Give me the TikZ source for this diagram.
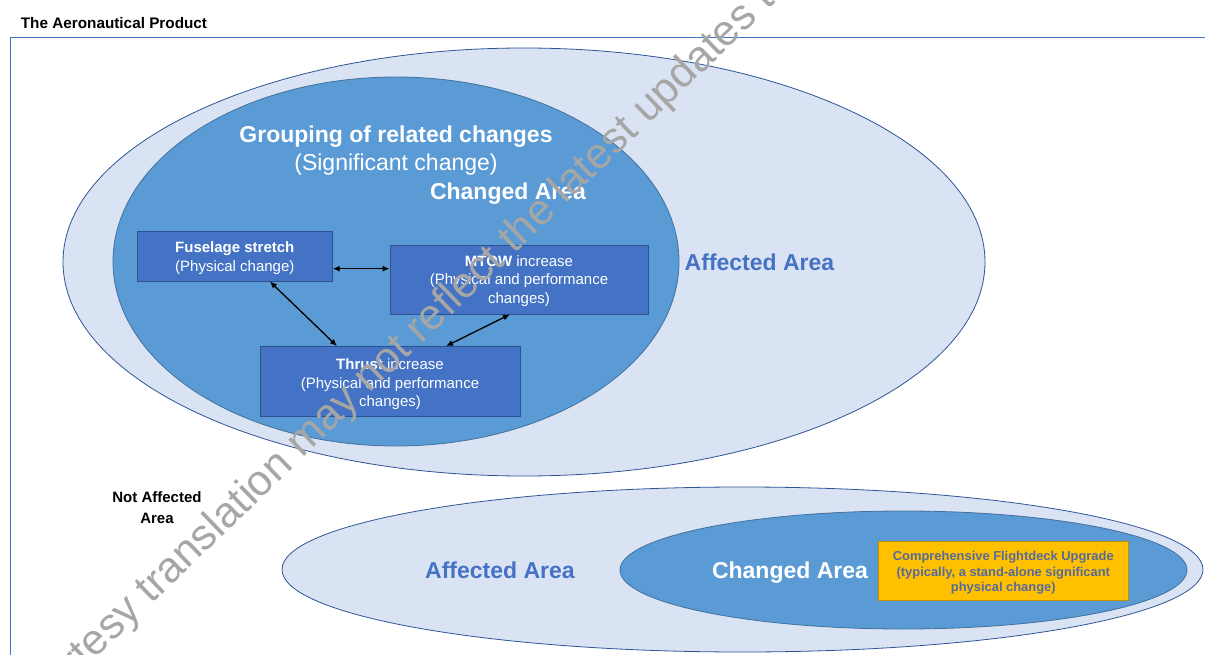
\documentclass[tikz,border=0pt]{standalone}
\usepackage{fontspec}
\setmainfont{Liberation Sans}
\usetikzlibrary{shapes.geometric,arrows.meta}
\definecolor{lightfill}{RGB}{218,227,243}
\definecolor{outerline}{RGB}{47,85,151}
\definecolor{midfill}{RGB}{91,155,213}
\definecolor{midline}{RGB}{65,113,156}
\definecolor{boxfill}{RGB}{68,114,196}
\definecolor{boxline}{RGB}{47,82,143}
\definecolor{accent}{RGB}{68,114,196}
\definecolor{gold}{RGB}{255,192,0}
\definecolor{goldline}{RGB}{191,144,0}
\definecolor{goldtext}{RGB}{86,106,158}
\definecolor{wmgray}{RGB}{166,166,166}
\definecolor{frameline}{RGB}{68,114,196}
\tikzset{
  areaouter/.style={ellipse, draw=outerline, fill=lightfill, line width=0.8pt, inner sep=0pt},
  areainner/.style={ellipse, draw=midline, fill=midfill, line width=0.8pt, inner sep=0pt},
  changebox/.style={rectangle, draw=boxline, fill=boxfill, line width=0.8pt, inner sep=0pt},
  boxtext/.style={text=white, align=center, inner sep=0pt, font=\fontsize{15}{18.5}\selectfont},
  flightbox/.style={rectangle, draw=goldline, fill=gold, line width=0.8pt, inner sep=0pt},
  flighttext/.style={text=goldtext, align=center, inner sep=0pt, font=\bfseries\fontsize{12.9}{15.5}\selectfont},
  bigwhite/.style={text=white, inner sep=0pt, font=\bfseries\fontsize{23}{27}\selectfont},
  bigblue/.style={text=accent, inner sep=0pt, font=\bfseries\fontsize{23}{27}\selectfont},
  blacklabel/.style={text=black, inner sep=0pt, align=center, font=\bfseries\fontsize{15}{21.7}\selectfont},
  link/.style={{Latex[length=7pt,width=6pt]}-{Latex[length=7pt,width=6pt]}, line width=1.3pt, black},
}
\begin{document}
\begin{tikzpicture}[x=1pt,y=-1pt]
\clip (0,0) rectangle (1205,655);
\fill[white] (0,0) rectangle (1205,655);
% title and frame
\node[anchor=base west, inner sep=0pt, font=\bfseries\fontsize{15.3}{18}\selectfont] (title) at (20.7,29) {The Aeronautical Product};
\draw[frameline, line width=0.9pt] (10.3,700) -- (10.3,37.7) -- (1260,37.7);
% top area
\node[areaouter, minimum width=922pt, minimum height=428pt] (topaff) at (524,262) {};
\node[areainner, minimum width=566pt, minimum height=369pt] (topchg) at (396,261.5) {};
\node[bigwhite] (grp) at (396,137) {Grouping of related changes};
\node[text=white, inner sep=0pt, font=\fontsize{23}{27}\selectfont] (sig) at (396,165) {(Significant change)};
\node[bigwhite] (chg1) at (508,193.5) {Changed Area};
\node[bigblue] (aff1) at (759.5,262.5) {Affected Area};
\node[changebox, minimum width=195pt, minimum height=50pt] (fus) at (234.8,256) {};
\node[boxtext] (fustxt) at ([yshift=-2pt]fus.center) {\textbf{Fuselage stretch}\\(Physical change)};
\node[changebox, minimum width=258pt, minimum height=69pt] (mtow) at (519,279.5) {};
\node[boxtext] (mtowtxt) at ([yshift=-1.5pt]mtow.center) {\textbf{MTOW} increase\\(Physical and performance\\changes)};
\node[changebox, minimum width=260pt, minimum height=70pt] (thr) at (390,381.5) {};
\node[boxtext] (thrtxt) at ([yshift=-3pt]thr.center) {\textbf{Thrust} increase\\(Physical and performance\\changes)};
\draw[link] ([yshift=-12.7pt]fus.east) -- ([yshift=10.8pt]mtow.west);
\draw[link] ([xshift=35pt]fus.south) -- ([xshift=-53pt]thr.north);
\draw[link] ([xshift=-9pt]mtow.south) -- ([xshift=56pt]thr.north);
% not affected
\node[blacklabel] (notaff) at (157,507.5) {Not Affected\\Area};
% bottom area
\node[areaouter, minimum width=921pt, minimum height=165pt] (botaff) at (742.5,569.5) {};
\node[areainner, minimum width=567pt, minimum height=118pt] (botchg) at (903.5,570) {};
\node[bigblue] (aff2) at (500,570.5) {Affected Area};
\node[bigwhite] (chg2) at (790,572.5) {Changed Area};
\node[flightbox, minimum width=250pt, minimum height=58.5pt] (flt) at (1003.3,570.8) {};
\node[flighttext] (flttxt) at ([yshift=-2pt]flt.center) {Comprehensive Flightdeck Upgrade\\(typically, a stand-alone significant\\physical change)};
% watermark
\node[anchor=base west, inner sep=0pt, rotate=44, text=wmgray, font=\fontsize{43}{43}\selectfont] (wm) at (26,726) {courtesy translation may not reflect the latest updates to the original};
\end{tikzpicture}
\end{document}
